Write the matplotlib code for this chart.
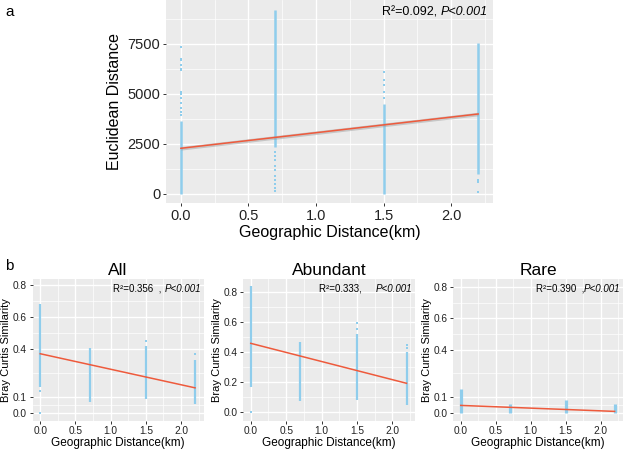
import numpy as np
import matplotlib.pyplot as plt
from matplotlib.ticker import FixedLocator

plt.rcParams['font.family'] = ['Liberation Sans', 'DejaVu Sans']

# sampling sites (km)
geo = [0.0, 0.7, 1.5, 2.2]

# panel a: Euclidean distance, dense range per site + sparse points
euc_dense = [(0, 3650), (2350, 9200), (0, 4500), (1000, 7550)]
euc_sparse = [
    [3950, 4100, 4300, 4550, 4800, 5000, 5100, 6200, 6250, 6450, 6700, 6750, 7350],
    [2100, 1900, 1700, 1400, 1200, 900, 700, 500, 300, 150],
    [4800, 5100, 5450, 5700, 6100],
    [600, 700, 100],
]
euc_fit = [2270, 3985]
euc_ci = [90, 90]

# panel b: Bray Curtis similarity
groups = ['All', 'Abundant', 'Rare']
bc_dense = {
    'All': [(0.16, 0.68), (0.07, 0.41), (0.09, 0.42), (0.055, 0.33)],
    'Abundant': [(0.165, 0.84), (0.075, 0.47), (0.08, 0.52), (0.05, 0.40)],
    'Rare': [(0.0, 0.15), (0.0, 0.057), (0.0, 0.078), (0.0, 0.053)],
}
bc_sparse = {
    'All': [[0.14, 0.0], [], [0.45], [0.37]],
    'Abundant': [[0.0], [], [0.59, 0.55], [0.45, 0.43]],
    'Rare': [[], [], [], []],
}
bc_fit = {'All': [0.371, 0.157], 'Abundant': [0.458, 0.193], 'Rare': [0.046, 0.008]}
bc_r2 = {'All': 'R²=0.356  , ', 'Abundant': 'R²=0.333,     ', 'Rare': 'R²=0.390  ,'}
bc_yticks = {'All': [0.0, 0.1, 0.4, 0.6, 0.8],
             'Abundant': [0.0, 0.2, 0.4, 0.6, 0.8],
             'Rare': [0.0, 0.1, 0.4, 0.6, 0.8]}
bc_ylim = {'All': (-0.048, 0.84), 'Abundant': (-0.054, 0.885), 'Rare': (-0.05, 0.85)}

pt_col = '#8fcdec'
ln_col = '#ee5a3c'
W, H = 625, 450


def style(ax, xt, yt, fs):
    ax.set_facecolor('#ebebeb')
    for s in ax.spines.values():
        s.set_visible(False)
    ax.set_xticks(xt)
    ax.set_yticks(yt)
    mx = [(a + b) / 2 for a, b in zip(xt[:-1], xt[1:])]
    my = [(a + b) / 2 for a, b in zip(yt[:-1], yt[1:])]
    lo, hi = ax.get_xlim()
    if xt[-1] + (xt[1] - xt[0]) / 2 < hi:
        mx.append(xt[-1] + (xt[1] - xt[0]) / 2)
    lo, hi = ax.get_ylim()
    if yt[-1] + (yt[-1] - yt[-2]) / 2 < hi:
        my.append(yt[-1] + (yt[-1] - yt[-2]) / 2)
    ax.xaxis.set_minor_locator(FixedLocator(mx))
    ax.yaxis.set_minor_locator(FixedLocator(my))
    ax.grid(which='major', color='white', lw=1.0)
    ax.grid(which='minor', color='white', lw=0.5)
    ax.set_axisbelow(True)
    ax.tick_params(which='major', length=2.5, width=0.7, color='#333333',
                   labelsize=fs, labelcolor='#222222', pad=1.5)
    ax.tick_params(which='minor', length=0)


def stat_label(ax, y, head, fs):
    # italic P part right-aligned, normal part placed to its left
    r = fig.canvas.get_renderer()
    t = ax.text(0.985, y, 'P<0.001', transform=ax.transAxes, ha='right',
                va='center', fontsize=fs, style='italic')
    bb = t.get_window_extent(r)
    x0 = ax.transAxes.inverted().transform((bb.x0, bb.y0))[0]
    ax.text(x0, y, head, transform=ax.transAxes, ha='right', va='center', fontsize=fs)


fig = plt.figure(figsize=(W / 100, H / 100), dpi=100)

# panel a
ax = fig.add_axes([166 / W, 1 - 203 / H, 327 / W, 203 / H])
ax.set_xlim(-0.11, 2.31)
ax.set_ylim(-465, 9685)
for x, (lo, hi), sp in zip(geo, euc_dense, euc_sparse):
    ax.vlines(x, lo, hi, color=pt_col, lw=1.8, zorder=2)
    ax.scatter([x] * len(sp), sp, s=2.5, marker='s', color=pt_col, lw=0, zorder=2)
ax.fill_between([geo[0], geo[-1]], [euc_fit[0] - euc_ci[0], euc_fit[1] - euc_ci[1]],
                [euc_fit[0] + euc_ci[0], euc_fit[1] + euc_ci[1]], color='#999999', alpha=0.45, lw=0, zorder=3)
ax.plot([geo[0], geo[-1]], euc_fit, color=ln_col, lw=1.1, zorder=4)
style(ax, [0.0, 0.5, 1.0, 1.5, 2.0], [0, 2500, 5000, 7500], 10.5)
ax.set_xticklabels(['0.0', '0.5', '1.0', '1.5', '2.0'])
ax.set_xlabel('Geographic Distance(km)', fontsize=11.5, labelpad=2)
ax.set_ylabel('Euclidean Distance', fontsize=11.5, labelpad=4)
stat_label(ax, 0.94, 'R²=0.092, ', 9)
fig.text(5 / W, 1 - 12 / H, 'a', fontsize=11, ha='left', va='center')

# panel b
lefts = [32.5, 243, 453]
rights = [203.5, 415, 623]
for g, l, r in zip(groups, lefts, rights):
    ax = fig.add_axes([l / W, 1 - 420.5 / H, (r - l) / W, 141.5 / H])
    ax.set_xlim(-0.11, 2.32)
    ax.set_ylim(*bc_ylim[g])
    lw = 2.3 if g == 'Rare' else 1.6
    for x, (lo, hi), sp in zip(geo, bc_dense[g], bc_sparse[g]):
        ax.vlines(x, lo, hi, color=pt_col, lw=lw, zorder=2)
        ax.scatter([x] * len(sp), sp, s=2.5, marker='s', color=pt_col, lw=0, zorder=2)
    ax.plot([geo[0], geo[-1]], bc_fit[g], color=ln_col, lw=1.1, zorder=4)
    style(ax, [0.0, 0.5, 1.0, 1.5, 2.0], bc_yticks[g], 7.3)
    ax.set_xticklabels(['0.0', '0.5', '1.0', '1.5', '2.0'])
    ax.set_yticklabels([f'{v:.1f}' for v in bc_yticks[g]])
    ax.set_xlabel('Geographic Distance(km)', fontsize=8.5, labelpad=1)
    ax.set_ylabel('Bray Curtis Similarity', fontsize=8, labelpad=1)
    stat_label(ax, 0.93, bc_r2[g], 7)
    ax.set_title(g, fontsize=12.5, pad=3)
fig.text(5 / W, 1 - 266 / H, 'b', fontsize=11, ha='left', va='center')

fig.savefig('out.png', dpi=100)
